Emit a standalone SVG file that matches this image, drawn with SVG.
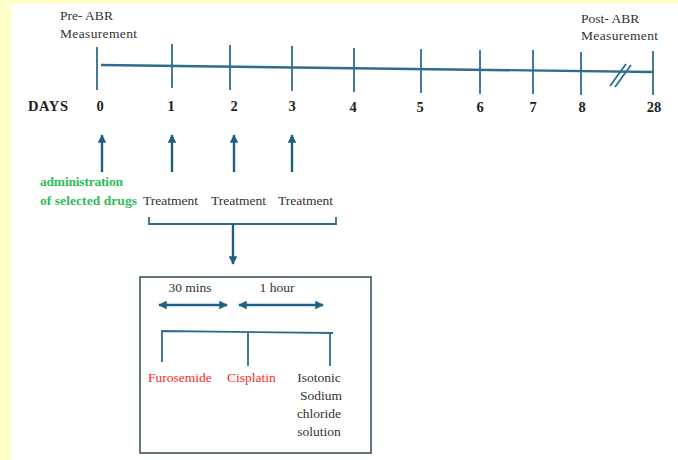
<svg xmlns="http://www.w3.org/2000/svg" width="678" height="460" viewBox="0 0 678 460">
<style>
text{font-family:'Liberation Serif','Times New Roman',Tinos,'DejaVu Serif',serif}
.t{font-size:13.5px;fill:#333}
.b{font-weight:bold;fill:#222;font-size:14.5px}
.g{font-size:13.5px;fill:#2ebd5a;font-weight:bold}
.r{fill:#ff2a2a}
.ln{stroke:#2f6d8c;stroke-width:1.8;fill:none}
.ar{stroke:#1f5f80;stroke-width:2.4;fill:none}
</style>
<defs>
<marker id="ah" viewBox="0 0 10 10" refX="9" refY="5" markerWidth="3.6" markerHeight="3.6" orient="auto-start-reverse" markerUnits="strokeWidth">
<path d="M0,0 L10,5 L0,10 z" fill="#1f5f80"/>
</marker>
</defs>
<rect width="678" height="460" fill="#ffffc8"/>
<rect x="11" y="4" width="667" height="456" fill="#fff"/>
<g id="timeline">
<line x1="101" y1="65" x2="653" y2="72" stroke="#2f6d8c" stroke-width="2.4"/>
<g class="ln">
<line x1="97" y1="47" x2="97" y2="90"/>
<line x1="172" y1="44" x2="172" y2="88"/>
<line x1="230" y1="45" x2="230" y2="90"/>
<line x1="292" y1="46" x2="292" y2="91"/>
<line x1="354" y1="48" x2="354" y2="92"/>
<line x1="421" y1="49" x2="421" y2="93"/>
<line x1="480" y1="50" x2="480" y2="94"/>
<line x1="533" y1="50" x2="533" y2="94"/>
<line x1="581" y1="52" x2="581" y2="95"/>
<line x1="653" y1="51" x2="653" y2="95"/>
<line x1="610" y1="86" x2="626" y2="64"/>
<line x1="615" y1="87" x2="631" y2="65"/>
</g>
</g>
<g id="labels">
<text class="t" x="60" y="20">Pre- ABR</text>
<text class="t" x="60" y="38" textLength="77">Measurement</text>
<text class="t" x="581" y="23">Post- ABR</text>
<text class="t" x="581" y="40" textLength="77">Measurement</text>
<text class="t b" x="28" y="111" textLength="40">DAYS</text>
<g class="t b" text-anchor="middle">
<text x="100" y="111">0</text>
<text x="171" y="111">1</text>
<text x="234" y="111">2</text>
<text x="292" y="111">3</text>
<text x="353" y="112">4</text>
<text x="420" y="112">5</text>
<text x="480" y="112">6</text>
<text x="533" y="112">7</text>
<text x="582" y="112">8</text>
<text x="654" y="112">28</text>
</g>
</g>
<g id="connectors">
<line class="ar" x1="102" y1="172" x2="102" y2="135" marker-end="url(#ah)"/>
<line class="ar" x1="172" y1="172" x2="172" y2="135" marker-end="url(#ah)"/>
<line class="ar" x1="234" y1="172" x2="234" y2="135" marker-end="url(#ah)"/>
<line class="ar" x1="292" y1="172" x2="292" y2="135" marker-end="url(#ah)"/>
<path class="ln" d="M149,217 V224 H336 V217"/>
<line class="ar" x1="233" y1="224" x2="233" y2="264" marker-end="url(#ah)"/>
<line class="ar" x1="159" y1="305" x2="227" y2="305" marker-start="url(#ah)" marker-end="url(#ah)"/>
<line class="ar" x1="239" y1="305" x2="323" y2="305" marker-start="url(#ah)" marker-end="url(#ah)"/>
<path class="ln" d="M162,362 V331 L333,333"/>
<line class="ln" x1="248" y1="332" x2="248" y2="366"/>
<line class="ln" x1="330" y1="333" x2="330" y2="366"/>
</g>
<g id="drugs">
<text class="g" x="40" y="186" textLength="83">administration</text>
<text class="g" x="40" y="205" textLength="97">of selected drugs</text>
</g>
<g id="treatments">
<text class="t" x="143" y="205" fill="#222">Treatment</text>
<text class="t" x="211" y="205">Treatment</text>
<text class="t" x="278" y="205">Treatment</text>
</g>
<g id="box">
<rect x="140" y="277" width="231" height="176" fill="none" stroke="#3f5461" stroke-width="1.6"/>
<text class="t" x="190" y="292" text-anchor="middle">30 mins</text>
<text class="t" x="277" y="292" text-anchor="middle">1 hour</text>
<text class="t r" x="148" y="382">Furosemide</text>
<text class="t r" x="227" y="382">Cisplatin</text>
<g class="t" text-anchor="middle">
<text x="319" y="382">Isotonic</text>
<text x="321" y="400">Sodium</text>
<text x="319" y="418">chloride</text>
<text x="319" y="436">solution</text>
</g>
</g>
</svg>
